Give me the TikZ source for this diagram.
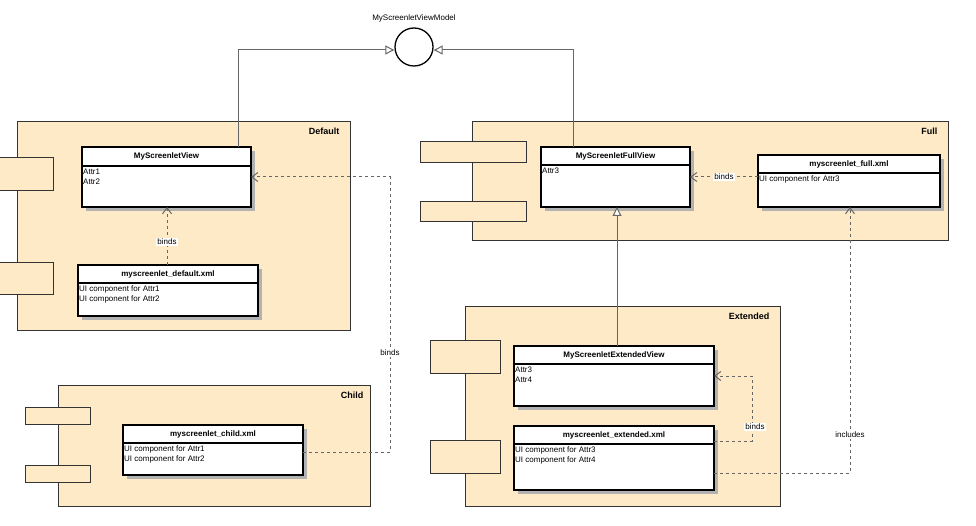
\documentclass[tikz,border=0pt]{standalone}
\usepackage{fontspec}
\setmainfont{Liberation Sans}
\usetikzlibrary{arrows.meta}
\begin{document}
\begin{tikzpicture}[x=1pt,y=-1pt,
 comp/.style={draw=black!80,fill=yellow!25!orange!20!white,line width=0.6pt},
 port/.style={draw=black!80,fill=yellow!25!orange!20!white,line width=0.6pt},
 cls/.style={draw=black,fill=white,line width=1.3pt},
 ttl/.style={font=\bfseries\fontsize{9}{10}\selectfont,anchor=north east},
 hd/.style={font=\bfseries\fontsize{8}{9}\selectfont},
 bd/.style={font=\fontsize{8}{10}\selectfont,align=left,anchor=north west,inner sep=1pt},
 lbl/.style={font=\fontsize{8}{9}\selectfont,fill=white,inner sep=1pt},
 dep/.style={draw=black!60,dashed,line width=1pt,-{Straight Barb[length=6pt,width=9pt]}},
 gen/.style={draw=black!60,line width=1pt,-{Triangle[open,length=9pt,width=9pt,fill=white]}}]
\useasboundingbox (0,0) rectangle (976,526);
\newcommand\clsbox[6]{% name, x1,y1,x2,y2, header bottom
 \fill[black!30] (#2+4,#3+4) rectangle (#4+4,#5+4);
 \draw[cls] (#2,#3) rectangle (#4,#5);
 \draw[line width=1.3pt] (#2,#6) -- (#4,#6);
 \node[inner sep=0] (#1) at (#2,#3) {};
 \coordinate (#1-tl) at (#2,#3);\coordinate (#1-br) at (#4,#5);}
% Default
\draw[comp] (17,121) rectangle (350,330);
\node[ttl] (tdef) at (343,124) {Default};
\draw[port] (-2,157) rectangle (53,190);
\draw[port] (-2,262) rectangle (53,294);
\clsbox{v}{82}{147}{251}{207}{166}
\node[hd] (vh) at (166.5,156.5) {MyScreenletView};
\node[bd] (vb) at (82,168) {Attr1\\Attr2};
\clsbox{dx}{78}{265}{258}{316}{283}
\node[hd] (dxh) at (168,274) {myscreenlet\_default.xml};
\node[bd] (dxb) at (78,285) {UI component for Attr1\\UI component for Attr2};
% Full
\draw[comp] (472,121) rectangle (948,240);
\node[ttl] (tfull) at (941,124) {Full};
\draw[port] (420,141) rectangle (526,162);
\draw[port] (420,201) rectangle (526,221);
\clsbox{fv}{541}{147}{690}{207}{165}
\node[hd] (fvh) at (615.5,156) {MyScreenletFullView};
\node[bd] (fvb) at (541,167) {Attr3};
\clsbox{fx}{758}{155}{940}{207}{173}
\node[hd] (fxh) at (849,164) {myscreenlet\_full.xml};
\node[bd] (fxb) at (758,175) {UI component for Attr3};
% Extended
\draw[comp] (465,306) rectangle (780,506);
\node[ttl] (text) at (773,309) {Extended};
\draw[port] (430,340) rectangle (500,373);
\draw[port] (430,440) rectangle (500,473);
\clsbox{ev}{514}{346}{714}{406}{364}
\node[hd] (evh) at (614,355) {MyScreenletExtendedView};
\node[bd] (evb) at (514,366) {Attr3\\Attr4};
\clsbox{ex}{514}{426}{714}{490}{444}
\node[hd] (exh) at (614,435) {myscreenlet\_extended.xml};
\node[bd] (exb) at (514,446) {UI component for Attr3\\UI component for Attr4};
% Child
\draw[comp] (58,385) rectangle (370,506);
\node[ttl] (tch) at (367,388) {Child};
\draw[port] (25,407) rectangle (90,424);
\draw[port] (25,465) rectangle (90,482);
\clsbox{cx}{123}{425}{303}{475}{443}
\node[hd] (cxh) at (213,434) {myscreenlet\_child.xml};
\node[bd] (cxb) at (123,445) {UI component for Attr1\\UI component for Attr2};
% interface
\node[draw,circle,line width=1.3pt,minimum size=38pt,inner sep=0,fill=white] (vm) at (414,47) {};
\node[font=\fontsize{8}{9}\selectfont] (vml) at (414,18) {MyScreenletViewModel};
\coordinate (a1) at (238,147); \coordinate (a2) at (573,147);
\draw[gen] (a1) -- (238,50) -- (vm.west |- 0,50);
\draw[gen] (a2) -- (573,50) -- (vm.east |- 0,50);
\coordinate (a3) at (617,346); \coordinate (a4) at (617,207);
\draw[gen] (a3) -- (a4);
% binds
\coordinate (b1) at (167,265); \coordinate (b2) at (167,207);
\draw[dep] (b1) -- node[lbl,pos=0.4] (l1) {binds} (b2);
\coordinate (c1) at (758,177); \coordinate (c2) at (690,177);
\draw[dep] (c1) -- node[lbl] (l2) {binds} (c2);
\coordinate (d1) at (303,452); \coordinate (d2) at (251,177);
\draw[dep] (d1) -- (390,452) -- node[lbl,pos=0.36] (l3) {binds} (390,177) -- (d2);
\coordinate (e1) at (714,441); \coordinate (e2) at (714,376);
\draw[dep] (e1) -- (752,441) -- (752,376) -- (e2);
\node[lbl] (l4) at (755,427) {binds};
\coordinate (f1) at (714,473); \coordinate (f2) at (850,207);
\draw[dep] (f1) -- (850,473) -- (f2);
\node[lbl] (l5) at (850,435) {includes};
\end{tikzpicture}
\end{document}
